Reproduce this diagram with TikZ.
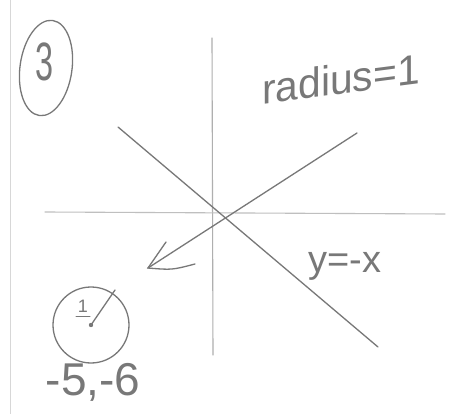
\documentclass[tikz,border=0pt]{standalone}
\usepackage{fontspec}
\setmainfont{Liberation Sans}
\definecolor{pencil}{RGB}{120,120,120}
\definecolor{lightpencil}{RGB}{175,175,175}
\definecolor{edge}{RGB}{215,215,215}
\tikzset{
  stroke/.style={draw=pencil, line width=1.3pt, line cap=round},
  faint/.style={draw=lightpencil, line width=1.1pt, line cap=round},
  hand/.style={text=pencil, inner sep=0pt}
}
\begin{document}
\begin{tikzpicture}[x=1pt,y=-1pt]
\useasboundingbox (0,0) rectangle (450,414);
\fill[white] (0,0) rectangle (450,414);
% page edge
\draw[draw=edge, line width=0.8pt] (10,0) -- (10,414);
% circled 3
\node[hand, font=\fontsize{54}{54}\selectfont, xscale=0.6] (three) at (45,62) {3};
\draw[stroke] (46,68) ellipse [x radius=26, y radius=48, rotate=-8];
% axes
\coordinate (vt) at (212,38);
\coordinate (vb) at (213,355);
\coordinate (hl) at (45,212);
\coordinate (hr) at (445,214);
\draw[faint] (vt) -- (vb);
\draw[faint, draw=lightpencil!80!white] (hl) -- (hr);
% y = -x line
\coordinate (nl) at (118,127);
\coordinate (nr) at (378,347);
\draw[stroke] (nl) -- (nr);
% arrow line
\coordinate (pr) at (357,133);
\coordinate (tip) at (148,268);
\coordinate (hd1) at (166,242);
\coordinate (hd2) at (195,264);
\draw[stroke] (pr) -- (tip);
\draw[stroke] (hd1) -- (tip) .. controls (172,270) .. (hd2);
% labels
\node[hand, font=\fontsize{42}{42}\selectfont, yslant=0.13, xscale=0.97] (rad) at (341,79) {radius=1};
\node[hand, font=\fontsize{38}{38}\selectfont] (eq) at (345,266) {y=-x};
% small circle
\coordinate (c) at (91,325);
\draw[stroke] (c) circle [radius=38];
\fill[pencil] (c) circle [radius=2.2];
\coordinate (rt) at (115,290);
\draw[stroke] (c) -- (rt);
\node[hand, font=\fontsize{18}{18}\selectfont] (one) at (83,306) {1};
\draw[stroke, line width=1pt] (76,316) -- (90,316);
\node[hand, font=\fontsize{46}{46}\selectfont] (pt) at (93,382) {-5,-6};
\end{tikzpicture}
\end{document}
